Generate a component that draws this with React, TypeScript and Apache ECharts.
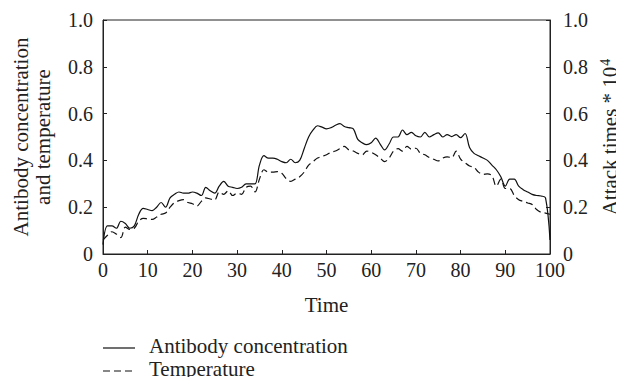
import React, { useEffect, useRef } from "react";
import * as echarts from "echarts";

const times: number[] = Array.from({ length: 101 }, (_, i) => i);

const antibody: number[] = [
  0.04, 0.12, 0.12, 0.11, 0.14, 0.13, 0.11, 0.12, 0.17, 0.195,
  0.19, 0.185, 0.2, 0.22, 0.2, 0.24, 0.255, 0.265, 0.26, 0.26,
  0.265, 0.26, 0.25, 0.285, 0.27, 0.26, 0.29, 0.31, 0.29, 0.285,
  0.28, 0.285, 0.3, 0.3, 0.3, 0.38, 0.42, 0.41, 0.41, 0.405,
  0.395, 0.39, 0.405, 0.39, 0.4, 0.45, 0.5, 0.53, 0.548, 0.542,
  0.535, 0.54, 0.55, 0.557, 0.545, 0.54, 0.535, 0.49, 0.475, 0.467,
  0.475, 0.495, 0.47, 0.445, 0.47, 0.5, 0.5, 0.53, 0.51, 0.52,
  0.505, 0.5, 0.52, 0.5, 0.51, 0.518, 0.5, 0.51, 0.502, 0.51,
  0.497, 0.515, 0.455, 0.43, 0.42, 0.41, 0.4, 0.38, 0.36, 0.33,
  0.29, 0.32, 0.32, 0.29, 0.275, 0.265, 0.255, 0.25, 0.248, 0.24,
  0.06,
];

const temperature: number[] = [
  0.06, 0.08, 0.095, 0.085, 0.07, 0.115, 0.105, 0.11, 0.14, 0.152,
  0.15, 0.148, 0.158, 0.17, 0.175, 0.2, 0.22, 0.228, 0.232, 0.22,
  0.215, 0.205, 0.225, 0.24, 0.235, 0.232, 0.265, 0.255, 0.27, 0.25,
  0.26, 0.255, 0.285, 0.29, 0.265, 0.32, 0.36, 0.35, 0.35, 0.352,
  0.345, 0.322, 0.31, 0.32, 0.33, 0.35, 0.38, 0.395, 0.41, 0.417,
  0.424, 0.435, 0.44, 0.45, 0.46, 0.445, 0.44, 0.43, 0.424, 0.44,
  0.435, 0.424, 0.41, 0.395, 0.41, 0.44, 0.45, 0.44, 0.46, 0.448,
  0.452, 0.43, 0.424, 0.412, 0.405, 0.398, 0.41, 0.415, 0.412, 0.44,
  0.405, 0.39, 0.376, 0.37, 0.35, 0.34, 0.342, 0.335, 0.29, 0.32,
  0.28, 0.28, 0.25, 0.232, 0.225, 0.218, 0.212, 0.19, 0.178, 0.175,
  0.17,
];

const seriesNames: string[] = ["Antibody concentration", "Temperature"];

const FONT = "Liberation Serif";
const FS = 20;
const fmtY = (v: number) => "{n|" + (v === 0 ? "0" : v.toFixed(1)) + "}";
const fmtX = (v: number) => "{n|" + String(v) + "}";

export default function App() {
  const ref = useRef<HTMLDivElement>(null);
  useEffect(() => {
    if (!ref.current) return;
    const chart = echarts.init(ref.current, undefined, { renderer: "svg" });
    const axisLine = { show: true, lineStyle: { color: "#222", width: 1 } };
    const axisTick = { show: true, inside: true, length: 4, lineStyle: { color: "#222" } };
    const labelStyle = {
      fontFamily: FONT,
      fontSize: FS,
      color: "#222",
      rich: { n: { fontFamily: FONT, fontSize: FS, color: "#222" } },
    };
    const yAxisCommon = {
      type: "value" as const,
      min: 0,
      max: 1,
      interval: 0.2,
      axisLine,
      axisTick,
      splitLine: { show: false },
      nameLocation: "middle" as const,
      nameRotate: 90,
      nameTextStyle: { fontFamily: FONT, fontSize: 21, color: "#222", lineHeight: 22 },
    };
    const legendFont = "21px 'Liberation Serif'";
    chart.setOption({
      animation: false,
      textStyle: { fontFamily: FONT },
      grid: {
        left: 103,
        right: 74,
        top: 20,
        bottom: 131,
        show: true,
        borderColor: "#222",
        borderWidth: 1,
        containLabel: false,
        outerBoundsMode: "none",
      },
      xAxis: {
        type: "value",
        min: 0,
        max: 100,
        interval: 10,
        axisLine,
        axisTick,
        splitLine: { show: false },
        axisLabel: { ...labelStyle, margin: 6, formatter: fmtX },
        name: "Time",
        nameLocation: "middle",
        nameGap: 40,
        nameTextStyle: { fontFamily: FONT, fontSize: 21, color: "#222" },
      },
      yAxis: [
        {
          ...yAxisCommon,
          position: "left",
          name: "Antibody concentration\nand temperature",
          nameGap: 49,
          axisLabel: { ...labelStyle, margin: 10, formatter: fmtY },
        },
        {
          ...yAxisCommon,
          position: "right",
          name: "{a|Attack times * 10}{s|4}",
          nameGap: 44,
          nameTextStyle: {
            fontFamily: FONT,
            fontSize: 21,
            color: "#222",
            rich: {
              a: { fontFamily: FONT, fontSize: 21, color: "#222" },
              s: { fontFamily: FONT, fontSize: 14, color: "#222", verticalAlign: "top", padding: [0, 0, 9, 1] },
            },
          },
          axisLabel: { ...labelStyle, margin: 13, formatter: fmtY },
        },
      ],
      graphic: [
        { type: "line", shape: { x1: 103, y1: 348, x2: 135, y2: 348 }, style: { stroke: "#111", lineWidth: 1.2 } },
        { type: "line", shape: { x1: 103, y1: 371, x2: 135, y2: 371 }, style: { stroke: "#111", lineWidth: 1.2, lineDash: [7, 4] } },
        { type: "text", x: 149, y: 346, style: { text: seriesNames[0], font: legendFont, fill: "#222", verticalAlign: "middle" } },
        { type: "text", x: 149, y: 369, style: { text: seriesNames[1], font: legendFont, fill: "#222", verticalAlign: "middle" } },
      ],
      series: [
        {
          name: seriesNames[0],
          type: "line",
          yAxisIndex: 0,
          data: times.map((t, i) => [t, antibody[i]]),
          symbol: "none",
          smooth: 0.35,
          lineStyle: { color: "#111", width: 1.2, type: "solid" },
          itemStyle: { color: "#111" },
        },
        {
          name: seriesNames[1],
          type: "line",
          yAxisIndex: 0,
          data: times.map((t, i) => [t, temperature[i]]),
          symbol: "none",
          smooth: 0.35,
          lineStyle: { color: "#111", width: 1.2, type: [7, 4] },
          itemStyle: { color: "#111" },
        },
      ],
    });
    return () => chart.dispose();
  }, []);
  return <div ref={ref} style={{ width: 624, height: 385, margin: -8 }} />;
}
